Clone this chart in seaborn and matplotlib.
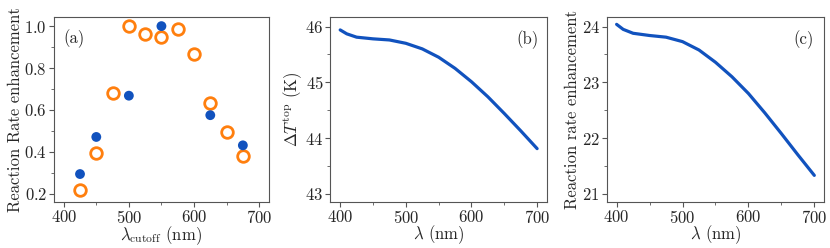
import pandas as pd
import matplotlib
matplotlib.use("Agg")
import matplotlib.pyplot as plt
import seaborn as sns
from matplotlib.ticker import AutoMinorLocator

# panel (a): cutoff scan, two data sets
cutoff_filled = [425, 450, 500, 550, 625, 675]
enh_filled = [0.294, 0.471, 0.668, 1.0, 0.575, 0.431]
cutoff_open = [425, 450, 475, 500, 525, 550, 575, 600, 625, 650, 675]
enh_open = [0.220, 0.395, 0.683, 1.0, 0.964, 0.948, 0.986, 0.866, 0.633, 0.494, 0.381]

# panels (b) and (c): curves vs wavelength
wl = [400, 410, 425, 450, 475, 500, 525, 550, 575, 600, 625, 650, 675, 700]
dT_top = [45.94, 45.87, 45.81, 45.78, 45.76, 45.70, 45.60, 45.45, 45.25, 45.01,
          44.74, 44.44, 44.13, 43.81]
rate = [24.04, 23.95, 23.88, 23.84, 23.81, 23.73, 23.58, 23.36, 23.10, 22.80,
        22.45, 22.08, 21.70, 21.33]

sns.set_style("ticks")
plt.rcParams["font.family"] = "serif"
plt.rcParams["font.serif"] = ["cmr10", "DejaVu Serif"]
plt.rcParams["mathtext.fontset"] = "cm"
plt.rcParams["axes.formatter.use_mathtext"] = True
plt.rcParams["font.size"] = 12
plt.rcParams["axes.edgecolor"] = "#555555"
plt.rcParams["axes.linewidth"] = 0.8

blue = "#1152be"
orange = "#ff7f0e"

fig = plt.figure(figsize=(8.3, 2.48), dpi=100)
ax1 = fig.add_axes([0.065, 0.185, 0.259, 0.746])
ax2 = fig.add_axes([0.398, 0.185, 0.261, 0.746])
ax3 = fig.add_axes([0.731, 0.185, 0.262, 0.746])

df_f = pd.DataFrame({"x": cutoff_filled, "y": enh_filled})
df_o = pd.DataFrame({"x": cutoff_open, "y": enh_open})
sns.scatterplot(data=df_f, x="x", y="y", ax=ax1, color=blue, s=50,
                edgecolor="none", zorder=3)
sns.scatterplot(data=df_o, x="x", y="y", ax=ax1, facecolor="white",
                edgecolor=orange, s=70, linewidth=2.0, zorder=2)
ax1.set_xlim(385, 715)
ax1.set_ylim(0.16, 1.043)
ax1.set_xticks([400, 500, 600, 700])
ax1.set_yticks([0.2, 0.4, 0.6, 0.8, 1.0])
ax1.set_xlabel(r"$\lambda_{\mathrm{cutoff}}$ (nm)", labelpad=-1)
ax1.set_ylabel("Reaction Rate enhancement", labelpad=1)
ax1.text(0.045, 0.885, "(a)", transform=ax1.transAxes, ha="left", va="center")

df_b = pd.DataFrame({"wl": wl, "v": dT_top})
sns.lineplot(data=df_b, x="wl", y="v", ax=ax2, color=blue, linewidth=2.3)
ax2.set_xlim(385, 715)
ax2.set_ylim(42.85, 46.17)
ax2.set_xticks([400, 500, 600, 700])
ax2.set_yticks([43, 44, 45, 46])
ax2.set_xlabel(r"$\lambda$ (nm)", labelpad=-2)
ax2.set_ylabel(r"$\Delta T^{\mathrm{top}}$ (K)", labelpad=1)
ax2.text(0.96, 0.88, "(b)", transform=ax2.transAxes, ha="right", va="center")

df_c = pd.DataFrame({"wl": wl, "v": rate})
sns.lineplot(data=df_c, x="wl", y="v", ax=ax3, color=blue, linewidth=2.3)
ax3.set_xlim(385, 715)
ax3.set_ylim(20.85, 24.17)
ax3.set_xticks([400, 500, 600, 700])
ax3.set_yticks([21, 22, 23, 24])
ax3.set_xlabel(r"$\lambda$ (nm)", labelpad=-2)
ax3.set_ylabel("Reaction rate enhancement", labelpad=1)
ax3.text(0.95, 0.88, "(c)", transform=ax3.transAxes, ha="right", va="center")

for ax in (ax1, ax2, ax3):
    ax.xaxis.set_minor_locator(AutoMinorLocator(2))
    ax.yaxis.set_minor_locator(AutoMinorLocator(2))
    ax.tick_params(which="major", length=3.5, width=0.8, color="#555555", pad=1.5)
    ax.tick_params(which="minor", length=2, width=0.6, color="#555555")

fig.savefig("out.png", dpi=100)
